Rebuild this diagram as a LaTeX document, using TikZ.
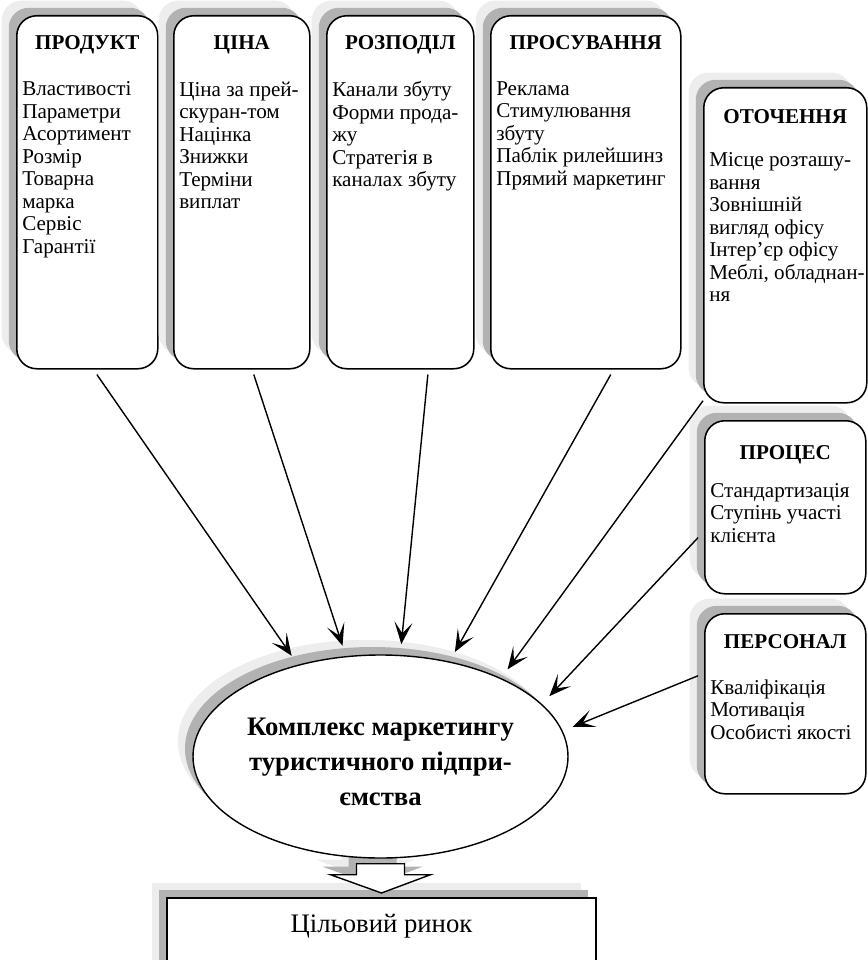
\documentclass[tikz,border=0pt]{standalone}
\usepackage{fontspec}
\setmainfont{Liberation Serif}
\usetikzlibrary{arrows.meta,positioning,calc,shadows,shapes.geometric}
\pgfdeclarelayer{back}
\pgfsetlayers{back,main}

\begin{document}
\begin{tikzpicture}[
  kshadow/.style={drop shadow={shadow xshift=-0.38cm,shadow yshift=0.38cm,fill=black!7,opacity=1},
    drop shadow={shadow xshift=-0.2cm,shadow yshift=0.2cm,fill=black!30,opacity=1}},
  box/.style={draw,line width=1.1pt,rounded corners=0.5cm,fill=white,kshadow,anchor=north west},
  ttl/.style={anchor=base,font=\fontsize{15}{16}\selectfont\bfseries},
  lst/.style={anchor=north west,align=left,inner sep=0pt,font=\fontsize{15}{16}\selectfont},
  arr/.style={-{Stealth[length=0.55cm,width=0.45cm,inset=0.28cm]},line width=1pt,shorten >=0.27cm}
]
\useasboundingbox (0,0) rectangle (21.675,-24);

% top row
\node[box,minimum width=3.525cm,minimum height=8.825cm] (prod) at (0.4,-0.375) {};
\node[ttl] (prodt) at ($(prod.north)+(0,-0.86)$) {ПРОДУКТ};
\node[lst] (prodl) at ($(prod.north west)+(0.15,-1.66)$)
  {Властивості\\Параметри\\Асортимент\\Розмір\\Товарна\\марка\\Сервіс\\Гарантії};

\node[box,minimum width=3.4cm,minimum height=8.825cm] (cina) at (4.325,-0.375) {};
\node[ttl] (cinat) at ($(cina.north)+(0,-0.86)$) {ЦІНА};
\node[lst] (cinal) at ($(cina.north west)+(0.15,-1.66)$)
  {Ціна за прей-\\скуран-том\\Націнка\\Знижки\\Терміни\\виплат};

\node[box,minimum width=3.675cm,minimum height=8.825cm] (rozp) at (8.15,-0.375) {};
\node[ttl] (rozpt) at ($(rozp.north)+(0,-0.86)$) {РОЗПОДІЛ};
\node[lst] (rozpl) at ($(rozp.north west)+(0.15,-1.66)$)
  {Канали збуту\\Форми прода-\\жу\\Стратегія в\\каналах збуту};

\node[box,minimum width=4.75cm,minimum height=8.825cm] (prosuv) at (12.25,-0.375) {};
\node[ttl] (prosuvt) at ($(prosuv.north)+(0,-0.86)$) {ПРОСУВАННЯ};
\node[lst] (prosuvl) at ($(prosuv.north west)+(0.15,-1.66)$)
  {Реклама\\Стимулювання\\збуту\\Паблік рилейшинз\\Прямий маркетинг};

% right column
\node[box,minimum width=4.075cm,minimum height=7.875cm] (otoch) at (17.575,-2.175) {};
\node[ttl] (otocht) at ($(otoch.north)+(0,-0.91)$) {ОТОЧЕННЯ};
\node[lst] (otochl) at ($(otoch.north west)+(0.15,-1.64)$)
  {Місце розташу-\\вання\\Зовнішній\\вигляд офісу\\Інтер’єр офісу\\Меблі, обладнан-\\ня};

\node[box,minimum width=4.025cm,minimum height=4.325cm] (proc) at (17.6,-10.5) {};
\node[ttl] (proct) at ($(proc.north)+(0,-0.99)$) {ПРОЦЕС};
\node[lst] (procl) at ($(proc.north west)+(0.15,-1.58)$)
  {Стандартизація\\Ступінь участі\\клієнта};

\node[box,minimum width=4.025cm,minimum height=4.5cm] (pers) at (17.6,-15.325) {};
\node[ttl] (perst) at ($(pers.north)+(0,-0.875)$) {ПЕРСОНАЛ};
\node[lst] (persl) at ($(pers.north west)+(0.15,-1.66)$)
  {Кваліфікація\\Мотивація\\Особисті якості};

% centre
\node[draw,ellipse,line width=1pt,fill=white,kshadow,
  minimum width=9.375cm,minimum height=5.075cm] (kompl) at (9.5125,-18.9125) {};
\node[align=center,font=\fontsize{19}{25}\selectfont\bfseries] (kompltxt)
  at ($(kompl.center)+(0,-0.13)$) {Комплекс маркетингу\\туристичного підпри-\\ємства};

\begin{pgfonlayer}{back}
\node[draw,line width=1.1pt,fill=white,kshadow,anchor=north,minimum width=10.725cm,
  inner ysep=0pt,text height=0.875cm,text depth=2.2cm,font=\fontsize{19}{22}\selectfont]
  (rynok) at (9.5375,-22.425) {Цільовий ринок};
\draw[line width=1pt,fill=white,kshadow] ($(kompl.south)+(-0.6,-0.125)$) -- ++(1.2,0)
  -- ++(0,-0.275) -- ++(0.65,0) -- ($(rynok.north)+(0,0.1)$)
  -- ($(kompl.south)+(-1.25,-0.4)$) -- ++(0.65,0) -- cycle;
\end{pgfonlayer}

% arrows
\draw[arr] ([xshift=0.24cm,yshift=-0.125cm]prod.south) -- (kompl.132);
\draw[arr] ([xshift=0.3cm,yshift=-0.125cm]cina.south) -- (kompl.109);
\draw[arr] ([xshift=0.69cm,yshift=-0.125cm]rozp.south) -- (kompl.79);
\draw[arr] ([xshift=0.625cm,yshift=-0.125cm]prosuv.south) -- (kompl.54);
\draw[arr] ([yshift=0.07cm]otoch.south west) -- (kompl.33.5);
\draw[arr] ($(proc.west)+(-0.15,-0.76)$) -- (kompl.18.6);
\draw[arr] ($(pers.west)+(-0.15,0.7)$) -- (kompl.8.5);
\end{tikzpicture}
\end{document}
